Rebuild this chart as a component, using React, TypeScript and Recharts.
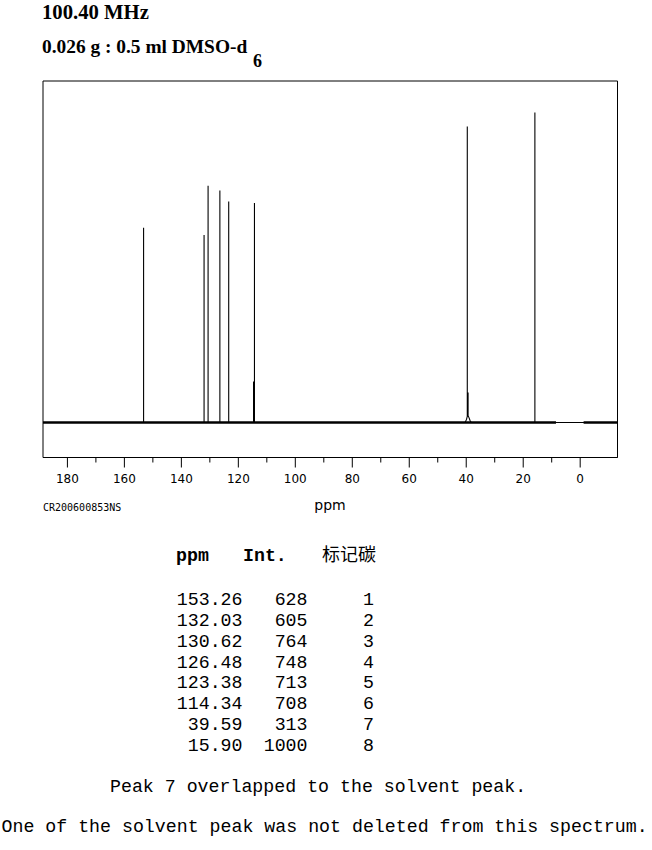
import React from 'react';
import { LineChart, Line, XAxis, YAxis, ReferenceArea } from 'recharts';

// 13C peak list (ppm, intensity read from stick heights)
const peakPpm = [153.26, 132.03, 130.62, 126.48, 123.38, 114.65, 114.34, 15.9];
const peakInt = [628, 605, 764, 748, 713, 132, 708, 1000];

// DMSO-d6 solvent multiplet around 39.6 ppm (overlaps peak 7)
const solventPpm = [40.4, 39.9, 39.63, 39.63, 39.63, 39.35, 39.35, 39.35, 39.0, 38.6, 38.2];
const solventInt = [0, 10, 20, 955, 20, 22, 97, 22, 15, 5, 0];

// noisy baseline stretches (the part near 0 ppm is flat)
const noisyFrom = [188.57, -1.2];
const noisyTo = [8.5, -13.1];

const xTicks = [180, 170, 160, 150, 140, 130, 120, 110, 100, 90, 80, 70, 60, 50, 40, 30, 20, 10, 0];

// table
const tablePpm = ['153.26', '132.03', '130.62', '126.48', '123.38', '114.34', '39.59', '15.90'];
const tableInt = ['628', '605', '764', '748', '713', '708', '313', '1000'];
const tableNo = ['1', '2', '3', '4', '5', '6', '7', '8'];

const X_MIN = -13.1;
const X_MAX = 188.57;
const Y_MIN = -112.9;
const Y_MAX = 1101.6;

type Pt = { ppm: number; v: number };

const buildSpectrum = (): Pt[] => {
  const groups: Pt[][] = peakPpm.map((p, i) => [
    { ppm: p, v: 0 },
    { ppm: p, v: peakInt[i] },
    { ppm: p, v: 0 },
  ]);
  groups.push(solventPpm.map((p, i) => ({ ppm: p, v: solventInt[i] })));
  groups.sort((a, b) => b[0].ppm - a[0].ppm);
  return [{ ppm: X_MAX, v: 0 }, ...groups.flat(), { ppm: X_MIN, v: 0 }];
};

const spectrum = buildSpectrum();

const PpmTick = (props: any) => {
  const { x, y, payload } = props;
  const major = payload.value % 20 === 0;
  return (
    <g>
      <line x1={x} x2={x} y1={y} y2={y + (major ? 10 : 5)} stroke="#000" strokeWidth={1} />
      {major && (
        <text x={x} y={y + 25} textAnchor="middle" fontSize={12} fontFamily="DejaVu Sans" fill="#000">
          {payload.value}
        </text>
      )}
    </g>
  );
};

const mono = '"Liberation Mono", "DejaVu Sans Mono", monospace';
const serif = '"Liberation Serif", "DejaVu Serif", serif';

const App: React.FC = () => {
  return (
    <div style={{ position: 'absolute', left: 0, top: 0, width: 652, height: 850, background: '#fff' }}>
      <div style={{ position: 'absolute', left: 0, top: 0 }}>
        <LineChart width={652} height={520} margin={{ top: 81, left: 43, right: 34.5, bottom: 22.5 }}>
          <XAxis
            xAxisId="b"
            dataKey="ppm"
            type="number"
            domain={[X_MIN, X_MAX]}
            reversed
            allowDataOverflow
            ticks={xTicks}
            interval={0}
            tickSize={0}
            tickMargin={0}
            tickLine={false}
            height={40}
            axisLine={{ stroke: '#000' }}
            tick={<PpmTick />}
          />
          <YAxis yAxisId="l" type="number" domain={[Y_MIN, Y_MAX]} allowDataOverflow hide />
          <ReferenceArea
            xAxisId="b"
            yAxisId="l"
            x1={X_MAX}
            x2={X_MIN}
            y1={Y_MIN}
            y2={Y_MAX}
            fill="none"
            fillOpacity={0}
            stroke="#000"
            strokeWidth={1}
            ifOverflow="visible"
          />
          {noisyFrom.map((a, i) => (
            <Line
              key={'n' + i}
              xAxisId="b"
              yAxisId="l"
              data={[
                { ppm: a, v: 0 },
                { ppm: noisyTo[i], v: 0 },
              ]}
              dataKey="v"
              type="linear"
              stroke="#000"
              strokeWidth={2.4}
              dot={false}
              isAnimationActive={false}
            />
          ))}
          <Line
            xAxisId="b"
            yAxisId="l"
            data={spectrum}
            dataKey="v"
            type="linear"
            stroke="#000"
            strokeWidth={1.1}
            dot={false}
            isAnimationActive={false}
          />
        </LineChart>
      </div>

      <svg width={652} height={850} style={{ position: 'absolute', left: 0, top: 0, pointerEvents: 'none' }}>
        <text x={42} y={19} fontFamily={serif} fontWeight="bold" fontSize={20.7} fill="#000">
          100.40 MHz
        </text>
        <text x={42} y={53} fontFamily={serif} fontWeight="bold" fontSize={19.4} fill="#000">
          0.026 g : 0.5 ml DMSO-d
        </text>
        <text x={253} y={66.5} fontFamily={serif} fontWeight="bold" fontSize={18} fill="#000">
          6
        </text>

        <text x={43} y={510.5} fontFamily='"DejaVu Sans Mono", monospace' fontSize={10} fill="#000">
          CR200600853NS
        </text>
        <text x={330} y={510} textAnchor="middle" fontFamily="DejaVu Sans" fontSize={14} fill="#000">
          ppm
        </text>

        <text x={176} y={561} fontFamily={mono} fontWeight="bold" fontSize={18.25} fill="#000">
          ppm
        </text>
        <text x={243} y={561} fontFamily={mono} fontWeight="bold" fontSize={18.25} fill="#000">
          Int.
        </text>
        <text x={322} y={561} fontFamily='"Noto Sans CJK SC", sans-serif' fontSize={18} fill="#000">
          标记碳
        </text>

        {tablePpm.map((p, i) => (
          <g key={p} fontFamily={mono} fontSize={18.25} fill="#000">
            <text x={242.5} y={605 + 20.85 * i} textAnchor="end">{p}</text>
            <text x={307.5} y={605 + 20.85 * i} textAnchor="end">{tableInt[i]}</text>
            <text x={374} y={605 + 20.85 * i} textAnchor="end">{tableNo[i]}</text>
          </g>
        ))}

        <text x={110} y={792} fontFamily={mono} fontSize={18.25} fill="#000">
          Peak 7 overlapped to the solvent peak.
        </text>
        <text x={1.5} y={832} fontFamily={mono} fontSize={18.25} fill="#000">
          One of the solvent peak was not deleted from this spectrum.
        </text>
      </svg>
    </div>
  );
};

export default App;
